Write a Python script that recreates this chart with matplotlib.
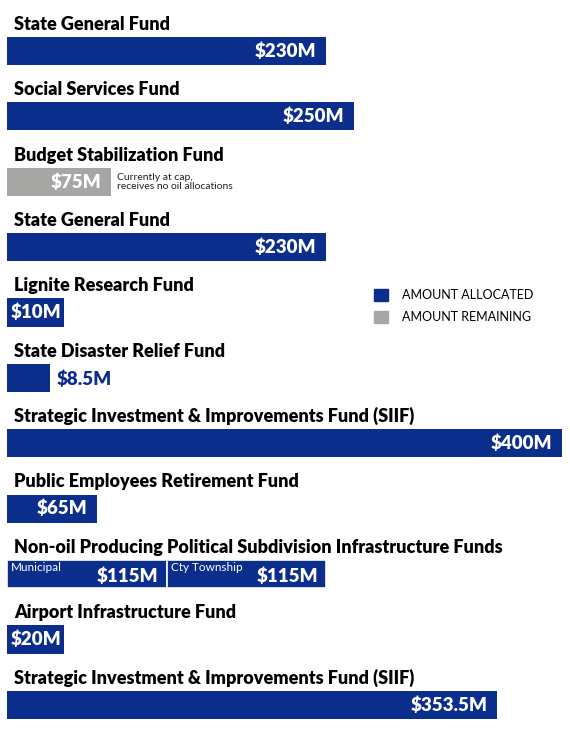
import numpy as np
import matplotlib.pyplot as plt
from matplotlib.patches import Patch

plt.rcParams['font.family'] = ['Lato', 'DejaVu Sans']

# fund data, top to bottom
fund_names = [
    "State General Fund",
    "Social Services Fund",
    "Budget Stabilization Fund",
    "State General Fund",
    "Lignite Research Fund",
    "State Disaster Relief Fund",
    "Strategic Investment & Improvements Fund (SIIF)",
    "Public Employees Retirement Fund",
    "Non-oil Producing Political Subdivision Infrastructure Funds",
    "Airport Infrastructure Fund",
    "Strategic Investment & Improvements Fund (SIIF)",
]
amounts = [230, 250, 75, 230, 10, 8.5, 400, 65, 230, 20, 353.5]
bar_kind = ["allocated", "allocated", "remaining", "allocated", "allocated",
            "allocated", "allocated", "allocated", "allocated", "allocated",
            "allocated"]
label_outside = [False, False, False, False, False, True,
                 False, False, False, False, False]

# the split row (two sub-funds)
split_row = 8
split_names = ["Municipal", "Cty Township"]
split_amounts = [115, 115]

note_row = 2
note_text = "Currently at cap,\nreceives no oil allocations"

BLUE = "#0b2d8c"
GREY = "#a6a6a4"
colors = {"allocated": BLUE, "remaining": GREY}
MIN_BAR = 31      # smallest visible bar, in $M units
BAR_H = 0.43

fig = plt.figure(figsize=(5.7, 7.31), dpi=100)
ax = fig.add_axes([7 / 570, 0, 555 / 570, 1])
ax.set_xlim(0, 400)
ax.set_ylim(10.4, -0.78)
ax.axis("off")

renderer = fig.canvas.get_renderer()
ppu = ax.bbox.width / 400  # pixels per $M


def fmt(v):
    return f"${v:g}M"


for i, (name, val) in enumerate(zip(fund_names, amounts)):
    ax.text(5, i - BAR_H / 2 - 0.11, name, fontsize=13, fontweight="heavy",
            color="black", va="baseline", ha="left")

    if i == split_row:
        left = 0
        for sub_name, sub_val in zip(split_names, split_amounts):
            ax.barh(i, sub_val, left=left, height=BAR_H, color=BLUE,
                    edgecolor="white", linewidth=1.2)
            ax.annotate(fmt(sub_val), (left + sub_val, i), xytext=(-8, -2),
                        textcoords="offset pixels", ha="right", va="center",
                        fontsize=13.5, fontweight="heavy", color="white")
            ax.annotate(sub_name, (left, i - BAR_H / 2), xytext=(4, -2),
                        textcoords="offset pixels", ha="left", va="top",
                        fontsize=8.5, color="white")
            left += sub_val
        continue

    color = colors[bar_kind[i]]
    if label_outside[i]:
        length = max(val, MIN_BAR)
        ax.barh(i, length, height=BAR_H, color=color)
        ax.annotate(fmt(val), (length, i), xytext=(7, -1),
                    textcoords="offset pixels", ha="left", va="center",
                    fontsize=13.5, fontweight="heavy", color=BLUE)
    else:
        lab = ax.text(0, i, fmt(val), fontsize=13.5, fontweight="heavy",
                      color="white", ha="right", va="center")
        w = lab.get_window_extent(renderer).width
        length = max(val, MIN_BAR, (w + 6) / ppu)
        ax.barh(i, length, height=BAR_H, color=color, zorder=1)
        lab.set_zorder(3)
        pad = 10 if length * ppu > w + 20 else 2
        lab.set_position((length - pad / ppu, i))

    if i == note_row:
        ax.annotate(note_text, (length, i), xytext=(6, 0),
                    textcoords="offset pixels", ha="left", va="center",
                    fontsize=7.5, color="#222222", linespacing=1.05)

handles = [Patch(color=BLUE, label="AMOUNT ALLOCATED"),
           Patch(color=GREY, label="AMOUNT REMAINING")]
fig.legend(handles=handles, loc="upper left",
           bbox_to_anchor=(374 / 570, 1 - 289 / 731), frameon=False,
           fontsize=9, handlelength=1.1, handleheight=1.1,
           labelspacing=0.75, handletextpad=1.1, borderaxespad=0,
           borderpad=0)

fig.savefig("out.png", dpi=100)
